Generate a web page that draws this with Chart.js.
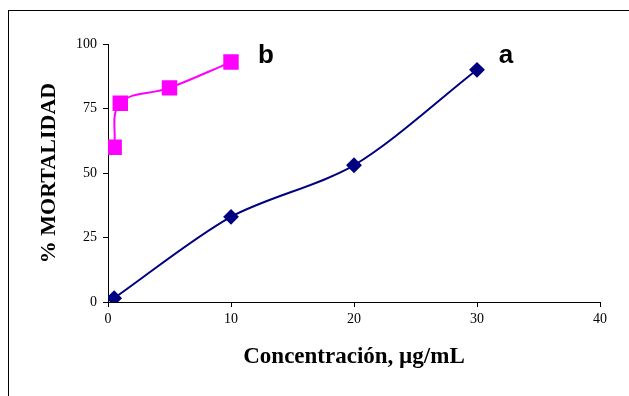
<!DOCTYPE html>
<html>
<head>
<meta charset="utf-8">
<script src="https://cdn.jsdelivr.net/npm/chart.js@4"></script>
<style>
  html, body { margin: 0; padding: 0; background: #fff; overflow: hidden; }
  #frame { position: absolute; left: 8px; top: 10px; width: 700px; height: 500px; border: 1px solid #000; }
  #wrap { position: absolute; left: 0; top: 0; width: 629px; height: 396px; }
</style>
</head>
<body>
<div id="frame"></div>
<div id="wrap"><canvas id="mortChart" width="629" height="396"></canvas></div>
<script>
// series a (diamonds)
const concA = [0.5, 10, 20, 30];
const mortA = [1.5, 33, 53, 90];
// series b (squares)
const concB = [0.5, 1, 5, 10];
const mortB = [60, 77, 83, 93];

const xTicks = [0, 10, 20, 30, 40];
const yTicks = [0, 25, 50, 75, 100];

// text labels next to the curves, in data units
const curveNames = ["a", "b"];
const curveNameX = [32.35, 12.85];
const curveNameY = [92.6, 92.6];

const toPoints = (xs, ys) => xs.map((x, i) => ({ x: x, y: ys[i] }));

const curveLabels = {
  id: "curveLabels",
  afterDatasetsDraw(chart) {
    const c = chart.ctx;
    const xs = chart.scales.x, ys = chart.scales.y;
    c.save();
    c.font = "bold 26px 'Liberation Sans', Arial, sans-serif";
    c.fillStyle = "#000";
    c.textAlign = "center";
    c.textBaseline = "alphabetic";
    curveNames.forEach((t, i) => {
      c.fillText(t, xs.getPixelForValue(curveNameX[i]), ys.getPixelForValue(curveNameY[i]));
    });
    c.restore();
  }
};

const ctx = document.getElementById("mortChart").getContext("2d");
new Chart(ctx, {
  type: "scatter",
  data: {
    datasets: [
      {
        label: "a",
        data: toPoints(concA, mortA),
        showLine: true,
        borderColor: "#000080",
        backgroundColor: "#000080",
        borderWidth: 2,
        tension: 0.3,
        pointStyle: "rectRot",
        pointRadius: 6.5,
        pointHoverRadius: 6.5,
      },
      {
        label: "b",
        data: toPoints(concB, mortB),
        showLine: true,
        borderColor: "#FF00FF",
        backgroundColor: "#FF00FF",
        borderWidth: 2,
        tension: 0.4,
        pointStyle: "rect",
        pointRadius: 9.5,
        pointHoverRadius: 9.5,
      },
    ],
  },
  options: {
    responsive: false,
    animation: false,
    layout: { padding: { top: 44, right: 29, bottom: 0, left: 0 } },
    plugins: {
      legend: { display: false },
      tooltip: { enabled: false },
    },
    scales: {
      x: {
        type: "linear",
        min: 0,
        max: 40,
        afterBuildTicks: (s) => { s.ticks = xTicks.map((v) => ({ value: v })); },
        afterFit: (s) => { s.height = 94; },
        grid: {
          display: true,
          drawOnChartArea: false,
          drawTicks: true,
          tickLength: 5,
          color: "#000",
        },
        border: { color: "#000", width: 1 },
        ticks: {
          color: "#000",
          padding: 4,
          maxRotation: 0,
          font: { family: "'Liberation Serif', 'Times New Roman', serif", size: 14 },
        },
        title: {
          display: true,
          text: "Concentración, µg/mL",
          color: "#000",
          font: { family: "'Liberation Serif', 'Times New Roman', serif", size: 23, weight: "bold" },
          padding: { top: 0, bottom: 25 },
        },
      },
      y: {
        type: "linear",
        min: 0,
        max: 100,
        afterBuildTicks: (s) => { s.ticks = yTicks.map((v) => ({ value: v })); },
        afterFit: (s) => { s.width = 108; },
        grid: {
          display: true,
          drawOnChartArea: false,
          drawTicks: true,
          tickLength: 5,
          color: "#000",
        },
        border: { color: "#000", width: 1 },
        ticks: {
          color: "#000",
          padding: 6,
          font: { family: "'Liberation Serif', 'Times New Roman', serif", size: 14 },
        },
        title: {
          display: true,
          text: "% MORTALIDAD",
          color: "#000",
          font: { family: "'Liberation Serif', 'Times New Roman', serif", size: 22, weight: "bold" },
          padding: { top: 36, bottom: 0 },
        },
      },
    },
  },
  plugins: [curveLabels],
});
</script>
</body>
</html>
